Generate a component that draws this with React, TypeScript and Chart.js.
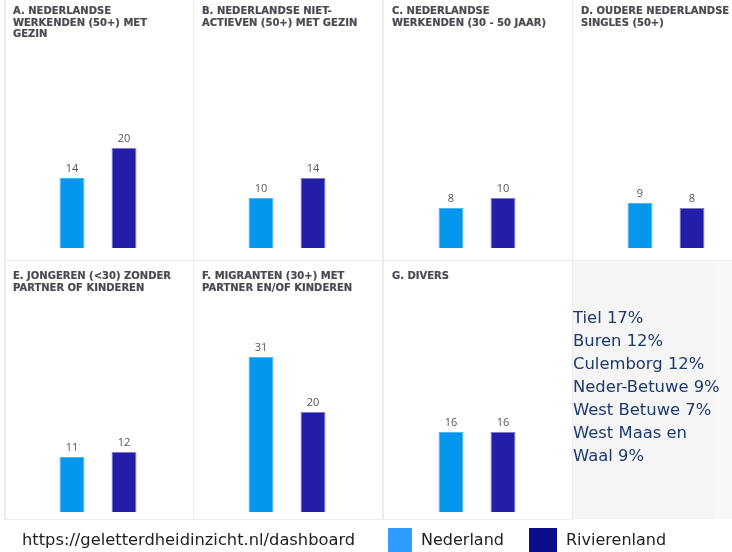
import React, { useEffect, useRef } from "react";
import { Chart, registerables } from "chart.js";

Chart.register(...registerables);

const panelTitles: string[][] = [
  ["A. NEDERLANDSE", "WERKENDEN (50+) MET", "GEZIN"],
  ["B. NEDERLANDSE NIET-", "ACTIEVEN (50+) MET GEZIN"],
  ["C. NEDERLANDSE", "WERKENDEN (30 - 50 JAAR)"],
  ["D. OUDERE NEDERLANDSE", "SINGLES (50+)"],
  ["E. JONGEREN (<30) ZONDER", "PARTNER OF KINDEREN"],
  ["F. MIGRANTEN (30+) MET", "PARTNER EN/OF KINDEREN"],
  ["G. DIVERS"],
];
const seriesNames = ["Nederland", "Rivierenland"];
const nederland = [14, 10, 8, 9, 11, 31, 16];
const rivierenland = [20, 14, 10, 8, 12, 20, 16];
const regionLines = [
  "Tiel 17%",
  "Buren 12%",
  "Culemborg 12%",
  "Neder-Betuwe 9%",
  "West Betuwe 7%",
  "West Maas en",
  "Waal 9%",
];
const sourceText = "https://geletterdheidinzicht.nl/dashboard";

const COLS = [
  { left: 4, width: 189 },
  { left: 193, width: 190 },
  { left: 383, width: 189 },
  { left: 572, width: 160 },
];
const ROWS = [
  { top: 0, height: 260, padTop: 48, padBottom: 12, titleTop: 5 },
  { top: 260, height: 259, padTop: 52, padBottom: 7, titleTop: 270 },
];

const valueLabels = {
  id: "valueLabels",
  afterDatasetsDraw(chart: any) {
    const ctx = chart.ctx;
    ctx.save();
    ctx.font = '11px "Open Sans"';
    ctx.fillStyle = "#555555";
    ctx.textAlign = "center";
    ctx.textBaseline = "alphabetic";
    chart.data.datasets.forEach((ds: any, i: number) => {
      const meta = chart.getDatasetMeta(i);
      meta.data.forEach((el: any, j: number) => {
        ctx.fillText(String(ds.data[j]), el.x, el.y - 6);
      });
    });
    ctx.restore();
  },
};

function Panel({ idx }: { idx: number }) {
  const ref = useRef<HTMLCanvasElement | null>(null);
  const col = COLS[idx % 4];
  const row = ROWS[Math.floor(idx / 4)];
  useEffect(() => {
    if (!ref.current) return;
    const chart = new Chart(ref.current, {
      type: "bar",
      data: {
        labels: [panelTitles[idx].join(" ")],
        datasets: [
          {
            label: seriesNames[0],
            data: [nederland[idx]],
            backgroundColor: "#0596ee",
            borderColor: "#52b8f5",
            borderWidth: 1,
          },
          {
            label: seriesNames[1],
            data: [rivierenland[idx]],
            backgroundColor: "#231ea8",
            borderColor: "#7f7ccc",
            borderWidth: 1,
          },
        ],
      },
      options: {
        animation: false,
        responsive: false,
        maintainAspectRatio: false,
        layout: {
          padding: {
            left: 42,
            right: col.width - 146,
            top: row.padTop,
            bottom: row.padBottom,
          },
        },
        datasets: { bar: { categoryPercentage: 1, barPercentage: 0.48 } },
        scales: {
          x: { display: false },
          y: { display: false, min: 0, max: 40 },
        },
        plugins: {
          legend: { display: false },
          title: { display: false },
          tooltip: { enabled: false },
        },
      },
      plugins: [valueLabels],
    });
    return () => chart.destroy();
  }, [idx]);
  return (
    <>
      <canvas
        ref={ref}
        width={col.width}
        height={row.height}
        style={{ position: "absolute", left: col.left, top: row.top, width: col.width, height: row.height }}
      />
      <div
        style={{
          position: "absolute",
          left: col.left + 9,
          top: row.titleTop,
          font: 'bold 10px "DejaVu Sans"',
          lineHeight: "11.7px",
          color: "#4a4a52",
          whiteSpace: "nowrap",
          WebkitTextStroke: "0.2px #4a4a52",
        }}
      >
        {panelTitles[idx].map((t, i) => (
          <div key={i}>{t}</div>
        ))}
      </div>
    </>
  );
}

const lineColor = "#ececec";

export default function App() {
  return (
    <div
      style={{
        position: "absolute",
        left: 0,
        top: 0,
        width: 732,
        height: 552,
        background: "#ffffff",
        overflow: "hidden",
      }}
    >
      <div style={{ position: "absolute", left: 573, top: 262, width: 142, height: 257, background: "#f5f5f5" }} />
      <div style={{ position: "absolute", left: 715, top: 262, width: 17, height: 257, background: "#f8f8f8" }} />
      {panelTitles.map((_, i) => (
        <Panel key={i} idx={i} />
      ))}
      <div style={{ position: "absolute", left: 4, top: 0, width: 1.5, height: 519, background: lineColor }} />
      <div style={{ position: "absolute", left: 192.5, top: 0, width: 1.5, height: 520, background: lineColor }} />
      <div style={{ position: "absolute", left: 382, top: 0, width: 1.5, height: 520, background: lineColor }} />
      <div style={{ position: "absolute", left: 571.5, top: 0, width: 1.5, height: 520, background: lineColor }} />
      <div style={{ position: "absolute", left: 4, top: 259.5, width: 728, height: 1.5, background: lineColor }} />
      <div style={{ position: "absolute", left: 4, top: 518.5, width: 568, height: 1.5, background: lineColor }} />
      <div
        style={{
          position: "absolute",
          left: 573,
          top: 306,
          font: '16.4px "DejaVu Sans"',
          lineHeight: "23px",
          color: "#1c3a6b",
          whiteSpace: "nowrap",
        }}
      >
        {regionLines.map((t, i) => (
          <div key={i}>{t}</div>
        ))}
      </div>
      <div
        style={{
          position: "absolute",
          left: 22,
          top: 528,
          font: '16.3px "DejaVu Sans"',
          lineHeight: "23px",
          color: "#222222",
          whiteSpace: "nowrap",
        }}
      >
        {sourceText}
      </div>
      <div style={{ position: "absolute", left: 388, top: 528, width: 24, height: 24, background: "#2e9cff", borderRadius: 1 }} />
      <div style={{ position: "absolute", left: 421, top: 528, font: '16px "DejaVu Sans"', lineHeight: "23px", color: "#222222" }}>
        {seriesNames[0]}
      </div>
      <div style={{ position: "absolute", left: 529, top: 528, width: 28, height: 24, background: "#0a0e8c" }} />
      <div style={{ position: "absolute", left: 566, top: 528, font: '16px "DejaVu Sans"', lineHeight: "23px", color: "#222222" }}>
        {seriesNames[1]}
      </div>
    </div>
  );
}
